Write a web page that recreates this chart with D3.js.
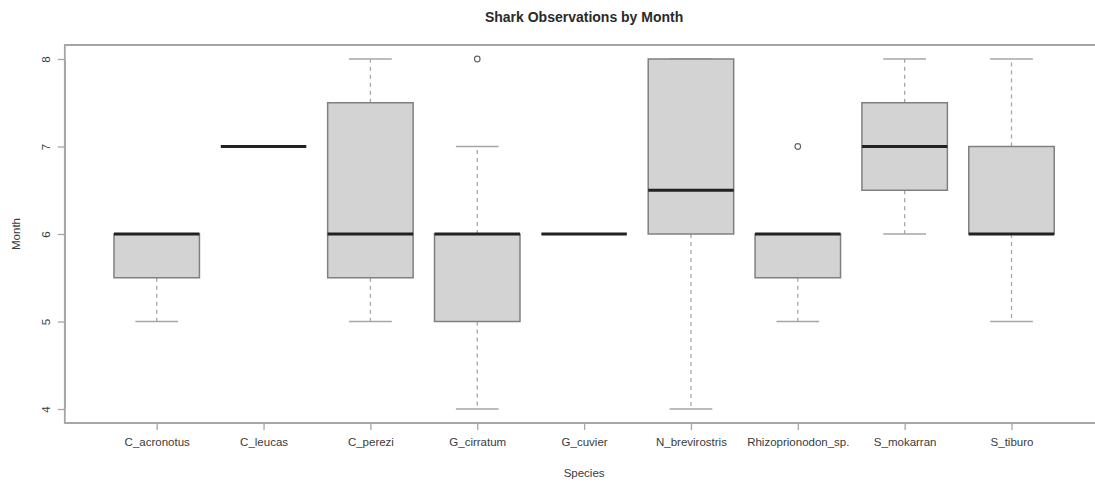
<!DOCTYPE html>
<html><head><meta charset="utf-8">
<script src="https://cdn.jsdelivr.net/npm/d3@7"></script>
<style>body{margin:0;background:#fff}svg{display:block;font-family:"Liberation Sans",Arial,sans-serif}</style>
</head><body><svg id="c" width="1095" height="487"></svg>
<script>
const species = ["C_acronotus","C_leucas","C_perezi","G_cirratum","G_cuvier","N_brevirostris","Rhizoprionodon_sp.","S_mokarran","S_tiburo"];
const whiskerLow  = [5, 7, 5,   4, 6, 4,   5,   6,   5];
const q1          = [5.5, 7, 5.5, 5, 6, 6,   5.5, 6.5, 6];
const medians     = [6, 7, 6,   6, 6, 6.5, 6,   7,   6];
const q3          = [6, 7, 7.5, 6, 6, 8,   6,   7.5, 7];
const whiskerHigh = [6, 7, 8,   7, 6, 8,   6,   8,   8];
const outliers    = [[], [], [], [8], [], [], [7], [], []];
const yTicks = [4,5,6,7,8];

const svg = d3.select("#c");
const x = d3.scaleLinear().domain([1, 9]).range([156.7, 1011.5]);
const y = d3.scaleLinear().domain([4, 8]).range([409, 59]);
const step = x(2) - x(1);
const bw = 0.8 * step;
const sw = bw / 2;
const pLeft = x(0.14), pRight = x(9.86), pTop = y(8.16), pBottom = y(3.84);

const gray = "#a6a6a6", boxStroke = "#808080", txt = "#3a3a3a";
const fs = 11.5;

// title
svg.append("text").attr("x", (pLeft + pRight) / 2).attr("y", 22).attr("text-anchor", "middle")
  .attr("font-size", 14).attr("font-weight", "bold").attr("fill", "#2a2a2a").text("Shark Observations by Month");

// plot frame (right side falls outside the picture)
svg.append("path").attr("d", `M${pRight},${pTop}H${pLeft}V${pBottom}H${pRight}`)
  .attr("fill", "none").attr("stroke", gray).attr("stroke-width", 1.8);

// y axis
const ya = svg.append("g").attr("transform", `translate(${pLeft},0)`)
  .call(d3.axisLeft(y).tickValues(yTicks).tickFormat(d3.format("d")).tickSize(7).tickSizeOuter(0));
ya.select(".domain").attr("stroke", gray).attr("stroke-width", 1.2);
ya.selectAll(".tick line").attr("stroke", gray).attr("stroke-width", 1.3);
ya.selectAll(".tick text").attr("font-size", fs).attr("fill", txt).attr("font-family", "Liberation Sans, Arial, sans-serif")
  .attr("x", null).attr("text-anchor", "middle")
  .attr("transform", "translate(-19,0) rotate(-90)").attr("y", 0).attr("dy", "0.35em");

// x axis
const xa = svg.append("g").attr("transform", `translate(0,${pBottom})`)
  .call(d3.axisBottom(x).tickValues(d3.range(1, 10)).tickFormat(i => species[i - 1]).tickSize(7).tickSizeOuter(0));
xa.select(".domain").attr("d", `M${x(1)},0H${x(9)}`).attr("stroke", gray).attr("stroke-width", 1.2);
xa.selectAll(".tick line").attr("stroke", gray).attr("stroke-width", 1.3);
xa.selectAll(".tick text").attr("font-size", fs).attr("fill", txt).attr("font-family", "Liberation Sans, Arial, sans-serif")
  .attr("y", 19).attr("dy", "0.35em");

// axis titles
svg.append("text").attr("x", (pLeft + pRight) / 2).attr("y", 477).attr("text-anchor", "middle")
  .attr("font-size", fs).attr("fill", txt).text("Species");
svg.append("text").attr("transform", `translate(20,${(pTop + pBottom) / 2}) rotate(-90)`).attr("text-anchor", "middle")
  .attr("font-size", fs).attr("fill", txt).text("Month");

// boxes
const g = svg.append("g");
species.forEach((s, i) => {
  const cx = x(i + 1);
  const b = g.append("g");
  if (whiskerHigh[i] > q3[i]) {
    b.append("line").attr("x1", cx).attr("x2", cx).attr("y1", y(q3[i])).attr("y2", y(whiskerHigh[i]))
      .attr("stroke", gray).attr("stroke-dasharray", "4,4").attr("stroke-width", 1.3);
  }
  if (whiskerLow[i] < q1[i]) {
    b.append("line").attr("x1", cx).attr("x2", cx).attr("y1", y(q1[i])).attr("y2", y(whiskerLow[i]))
      .attr("stroke", gray).attr("stroke-dasharray", "4,4").attr("stroke-width", 1.3);
  }
  [whiskerLow[i], whiskerHigh[i]].forEach(v => {
    b.append("line").attr("x1", cx - sw / 2).attr("x2", cx + sw / 2).attr("y1", y(v)).attr("y2", y(v))
      .attr("stroke", gray).attr("stroke-width", 1.5);
  });
  if (q3[i] > q1[i]) {
    b.append("rect").attr("x", cx - bw / 2).attr("y", y(q3[i])).attr("width", bw).attr("height", y(q1[i]) - y(q3[i]))
      .attr("fill", "#d3d3d3").attr("stroke", boxStroke).attr("stroke-width", 1.5);
  }
  b.append("line").attr("x1", cx - bw / 2).attr("x2", cx + bw / 2).attr("y1", y(medians[i])).attr("y2", y(medians[i]))
    .attr("stroke", "#222").attr("stroke-width", 2.8);
  outliers[i].forEach(v => {
    b.append("circle").attr("cx", cx).attr("cy", y(v)).attr("r", 2.8)
      .attr("fill", "none").attr("stroke", "#666").attr("stroke-width", 1.2);
  });
});
</script></body></html>
